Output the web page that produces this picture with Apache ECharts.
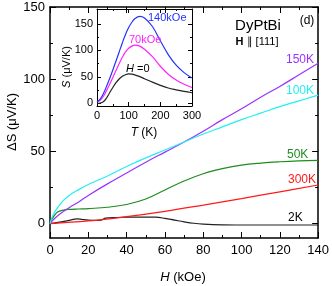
<!DOCTYPE html>
<html><head><meta charset="utf-8">
<script src="https://cdn.jsdelivr.net/npm/echarts@6/dist/echarts.min.js"></script>
<style>html,body{margin:0;padding:0;background:#fff}#c{width:332px;height:286px}</style>
</head><body><div id="c"></div><script>
// ---- main panel data: H (kOe) vs ΔS (μV/K)
const h150 = [0,2,5,10,15,20,30,40,50,60,70,80,90,100,110,120,130,140];
const s150 = [0,3,6.5,11,15,19.5,27.5,35,42.5,49.5,56.5,64,72,79.5,87.5,95,103,111];
const h100 = [0,1,2,4,7,10,15,20,30,40,50,60,70,80,90,100,110,120,130,140];
const s100 = [0,4,7,11,16,19.5,23.5,27,33,39.5,45.5,51,56.5,62,67,72,76.5,81,85,89];
const h50  = [0,1,2,4,7,10,15,20,30,40,50,60,70,80,90,100,110,120,130,140];
const s50  = [0,3,5,8,9.3,9.8,10.1,10.4,11.3,13.2,17,23.3,29.5,34.5,38,40.5,41.9,42.8,43.4,43.7];
const h300 = [0,20,40,60,80,100,120,140];
const s300 = [0,1.8,4.8,8.5,12.8,17.3,22,26.7];
const h2   = [0,5,10,14,17,20,25,27,29,35,40,50,55,60,65,70,75,80,90,100,120,140];
const s2   = [0,1,2.2,3.3,2.8,2.4,2.2,2.6,3.8,4.2,4.4,4.5,4.4,3.6,2.4,1.2,0.2,-0.4,-0.9,-1,-1,-1];
// ---- inset data: T (K) vs S (μV/K)
const tIn  = [0,10,20,30,40,50,60,70,80,90,100,110,120,135,150,175,200,225,250,275,300];
const s140 = [3,8,18,32,47,63,80,97,114,130,143,153,160,164,161,145,118,92,72,58,48];
const s70  = [3,6,13,24,36,49,62,75,87,97,104,108,110,108,102,88,70,55,44,36,30];
const s0   = [0,0.5,3,10,20,30,39,46,51,54,55.5,55,53.5,50.5,46.5,40,34,29,25.5,22.5,20];
// tick labels
const mainYMajor = [0,50,100,150];
const mainYMinor = [25,75,125];
const inYMajor = [0,50,100,150];
const inYMinor = [25,75,125];

const FF = '"Liberation Sans", Arial, sans-serif';
const pair = (xs, ys) => xs.map((x, i) => [x, ys[i]]);

function xAx(grid, pos, min, max, interval, showLabel, fs, tl, lw) {
  return {
    type: 'value', gridIndex: grid, position: pos, min: min, max: max, interval: interval,
    axisLine: {show: true, onZero: false, lineStyle: {color: '#000', width: lw}},
    axisTick: {show: true, inside: true, length: tl, lineStyle: {color: '#000', width: 1}},
    minorTick: {show: true, splitNumber: 2, length: tl / 2, lineStyle: {color: '#000', width: 1}},
    axisLabel: {show: showLabel, color: '#000', fontSize: fs, fontFamily: FF, margin: fs > 12 ? 6 : 4},
    splitLine: {show: false}, minorSplitLine: {show: false}
  };
}
function yAx(grid, pos, min, max, ticks, showLine, showLabel, fs, tl, lw) {
  return {
    type: 'value', gridIndex: grid, position: pos, min: min, max: max,
    axisLine: {show: showLine, onZero: false, lineStyle: {color: '#000', width: lw}},
    axisTick: {show: true, inside: true, length: tl, customValues: ticks, lineStyle: {color: '#000', width: 1}},
    axisLabel: {show: showLabel, customValues: ticks, color: '#000', fontSize: fs, fontFamily: FF, margin: fs > 12 ? 5 : 4},
    splitLine: {show: false}
  };
}
const ln = (name, xi, yi, data, color) => ({
  name: name, type: 'line', xAxisIndex: xi, yAxisIndex: yi, data: data,
  showSymbol: false, smooth: 0.4,
  lineStyle: {color: color, width: 1.2}, itemStyle: {color: color}, silent: true, animation: false
});
const txt = (text, x, y, color, size, align, rot, rich) => ({
  type: 'text', x: x, y: y, rotation: rot || 0, z: 100,
  style: {text: text, fill: color, font: size + 'px ' + FF, align: align || 'left', verticalAlign: 'middle', rich: rich}
});

const chart = echarts.init(document.getElementById('c'), null, {renderer: 'canvas'});
chart.setOption({
  animation: false,
  backgroundColor: '#fff',
  grid: [
    {left: 50, top: 7, width: 270, height: 231, containLabel: false},
    {left: 97, top: 9, width: 95, height: 97, containLabel: false}
  ],
  xAxis: [
    xAx(0, 'bottom', 0, 140, 20, true, 13, 6, 1.5),
    xAx(0, 'top', 0, 140, 20, false, 13, 6, 1.5),
    xAx(1, 'bottom', 0, 300, 100, true, 11, 4, 1),
    xAx(1, 'top', 0, 300, 100, false, 11, 4, 1)
  ],
  yAxis: [
    yAx(0, 'left', -10, 150, mainYMajor, true, true, 13, 6, 1.5),
    yAx(0, 'left', -10, 150, mainYMinor, false, false, 13, 3, 1.5),
    yAx(0, 'right', -10, 150, mainYMajor, true, false, 13, 6, 1.5),
    yAx(0, 'right', -10, 150, mainYMinor, false, false, 13, 3, 1.5),
    yAx(1, 'left', -5, 178, inYMajor, true, true, 11, 4, 1),
    yAx(1, 'left', -5, 178, inYMinor, false, false, 11, 2, 1),
    yAx(1, 'right', -5, 178, inYMajor, true, false, 11, 4, 1),
    yAx(1, 'right', -5, 178, inYMinor, false, false, 11, 2, 1)
  ],
  series: [
    ln('2K', 0, 0, pair(h2, s2), '#222222'),
    ln('300K', 0, 0, pair(h300, s300), '#ff1a1a'),
    ln('50K', 0, 0, pair(h50, s50), '#1e8c1e'),
    ln('150K', 0, 0, pair(h150, s150), '#9933ff'),
    ln('100K', 0, 0, pair(h100, s100), '#22f0f0'),
    ln('H=0', 2, 4, pair(tIn, s0), '#222222'),
    ln('70kOe', 2, 4, pair(tIn, s70), '#ff22ff'),
    ln('140kOe', 2, 4, pair(tIn, s140), '#2233ff')
  ],
  graphic: [
    txt('ΔS (μV/K)', 12, 122, '#000', 13, 'center', Math.PI / 2),
    txt('{i|H} (kOe)', 183, 277, '#000', 13, 'center', 0, {i: {fontStyle: 'italic', fontSize: 13, fontFamily: FF}}),
    txt('{i|S} (μV/K)', 67, 67, '#000', 11, 'center', Math.PI / 2, {i: {fontStyle: 'italic', fontSize: 11, fontFamily: FF}}),
    txt('{i|T} (K)', 144, 133, '#000', 12, 'center', 0, {i: {fontStyle: 'italic', fontSize: 12, fontFamily: FF}}),
    txt('DyPtBi', 258, 26, '#000', 15, 'center'),
    txt('{b|H} ∥ [111]', 257, 42, '#000', 11, 'center', 0, {b: {fontWeight: 'bold', fontSize: 11, fontFamily: FF}}),
    txt('(d)', 307, 21, '#000', 12, 'center'),
    txt('150K', 286, 60, '#9933ff', 12),
    txt('100K', 286, 91, '#22f0f0', 12),
    txt('50K', 287, 155, '#1e8c1e', 12),
    txt('300K', 288, 180, '#ff1a1a', 12),
    txt('2K', 288, 218, '#000', 12),
    txt('140kOe', 148, 18, '#2233ff', 11),
    txt('70kOe', 129, 40, '#ff22ff', 11),
    txt('{i|H} =0', 126, 69, '#000', 11, 'left', 0, {i: {fontStyle: 'italic', fontSize: 11, fontFamily: FF}})
  ]
});
</script></body></html>
